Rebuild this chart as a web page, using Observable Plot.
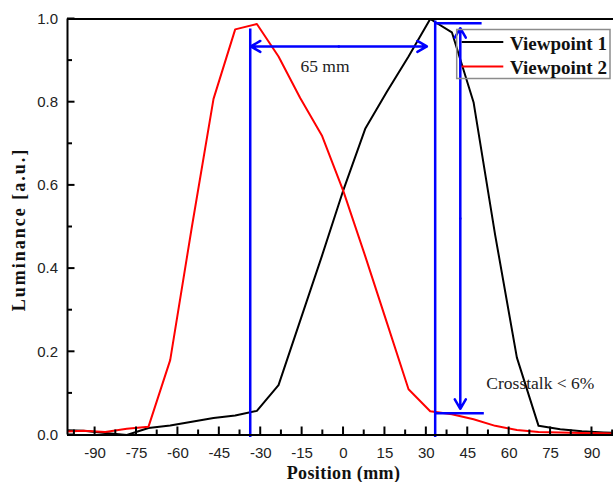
<!DOCTYPE html>
<html>
<head>
<meta charset="utf-8">
<script src="https://cdn.jsdelivr.net/npm/d3@7"></script>
<script src="https://cdn.jsdelivr.net/npm/@observablehq/plot@0.6"></script>
<style>
  html, body { margin: 0; padding: 0; background: #fff; }
  #chart { width: 613px; height: 482px; overflow: hidden; }
</style>
</head>
<body>
<div id="chart"></div>
<script>
// ---- data ----
const positions = [-102.05, -94.2, -86.35, -78.5, -70.65, -62.8, -54.95, -47.1, -39.25, -31.4, -23.55, -15.7, -7.85, 0,
  7.85, 15.7, 23.55, 31.4, 39.25, 47.1, 54.95, 62.8, 70.65, 78.5, 86.35, 94.2, 102.05];
const viewpoint1 = [0.012, 0.01, 0.005, 0.0, 0.017, 0.023, 0.032, 0.041, 0.047, 0.058, 0.12, 0.275, 0.43, 0.59,
  0.736, 0.825, 0.91, 1.0, 0.968, 0.8, 0.48, 0.186, 0.022, 0.014, 0.009, 0.006, 0.004];
const viewpoint2 = [0.008, 0.01, 0.007, 0.015, 0.02, 0.18, 0.5, 0.808, 0.975, 0.988, 0.91, 0.81, 0.72, 0.585,
  0.43, 0.27, 0.11, 0.057, 0.05, 0.038, 0.022, 0.012, 0.007, 0.006, 0.005, 0.004, 0.003];
const seriesNames = ["Viewpoint 1", "Viewpoint 2"];
const seriesColors = ["#000000", "#ff0000"];

const xMajorTicks = [-90, -75, -60, -45, -30, -15, 0, 15, 30, 45, 60, 75, 90];
const xMinorTicks = [-97.5, -82.5, -67.5, -52.5, -37.5, -22.5, -7.5, 7.5, 22.5, 37.5, 52.5, 67.5, 82.5, 97.5];
const yMajorTicks = [0, 0.2, 0.4, 0.6, 0.8, 1.0];
const yMinorTicks = [0.1, 0.3, 0.5, 0.7, 0.9];
const xMin = -100, xMax = 97.8;

// annotation values (mm / luminance)
const viewpointEdges = [
  {x: -33.8, y1: -0.006, y2: 0.976},
  {x: 33.2, y1: -0.006, y2: 0.995}
];
const separationArrow = {x1: -33.6, x2: 30.2, y: 0.934};
const crosstalkArrow = {x: 42.3, y1: 0.063, y2: 0.978};
const crosstalkLevels = [
  {y: 0.99, x1: 33.2, x2: 50.2},
  {y: 0.0525, x1: 33.2, x2: 51}
];
const labels = [
  {text: "65 mm", x: -6.7, y: 0.885},
  {text: "Crosstalk < 6%", x: 71.3, y: 0.124}
];

// ---- table built from arrays ----
const table = [];
positions.forEach((p, i) => {
  table.push({position: p, value: viewpoint1[i], series: seriesNames[0]});
});
positions.forEach((p, i) => {
  table.push({position: p, value: viewpoint2[i], series: seriesNames[1]});
});

const blue = "#0000ff";
const serif = "Liberation Serif, Times New Roman, serif";

const sepMid = (separationArrow.x1 + separationArrow.x2) / 2;
const ctMid = (crosstalkArrow.y1 + crosstalkArrow.y2) / 2;

// inward-pointing tick marks, placed with the plot's own scales
function inwardTicks(index, scales) {
  const sx = scales.x, sy = scales.y;
  const g = d3.create("svg:g").attr("stroke", "#000").attr("stroke-width", 2).attr("fill", "none");
  const y0 = sy(0), x0 = sx(xMin);
  const addX = (ticks, len) => ticks.forEach(t => {
    g.append("line").attr("x1", sx(t)).attr("x2", sx(t)).attr("y1", y0).attr("y2", y0 - len);
  });
  const addY = (ticks, len) => ticks.forEach(t => {
    g.append("line").attr("x1", x0).attr("x2", x0 + len).attr("y1", sy(t)).attr("y2", sy(t));
  });
  addX(xMajorTicks, 8);
  addX(xMinorTicks, 5);
  addY(yMajorTicks, 7.5);
  addY(yMinorTicks, 5);
  return g.node();
}

function legendMark(index, scales, values, dimensions) {
  const {width, marginTop} = dimensions;
  const left = width - 156.3, top = marginTop + 11;
  const g = d3.create("svg:g");
  g.append("rect")
    .attr("x", left).attr("y", top).attr("width", 153.3).attr("height", 49)
    .attr("fill", "none").attr("stroke", "#8c8c8c").attr("stroke-width", 1.5);
  seriesNames.forEach((name, i) => {
    const ly = top + 12.5 + i * 24.5;
    g.append("line")
      .attr("x1", left + 5).attr("x2", left + 46.6)
      .attr("y1", ly).attr("y2", ly)
      .attr("stroke", scales.color(name)).attr("stroke-width", 2);
    g.append("text")
      .attr("x", left + 53.3).attr("y", top + 20.5 + i * 23.5)
      .attr("text-anchor", "start")
      .attr("font-family", serif).attr("font-weight", "bold").attr("font-size", 19)
      .attr("fill", "#111")
      .text(name);
  });
  return g.node();
}

const chart = Plot.plot({
  width: 613,
  height: 482,
  marginLeft: 67,
  marginRight: 0,
  marginTop: 18.5,
  marginBottom: 47.5,
  x: {domain: [xMin, xMax], label: null},
  y: {domain: [0, 1], label: null},
  color: {domain: seriesNames, range: seriesColors},
  style: {fontFamily: "Liberation Sans, Arial, sans-serif", fontSize: "15px", color: "#222", background: "#fff", overflow: "visible"},
  marks: [
    Plot.line(table, {x: "position", y: "value", stroke: "series", z: "series", strokeWidth: 2, clip: true}),
    Plot.ruleX(viewpointEdges, {x: "x", y1: "y1", y2: "y2", stroke: blue, strokeWidth: 2.5}),
    Plot.arrow([{a: sepMid, b: separationArrow.x1}, {a: sepMid, b: separationArrow.x2}], {
      x1: "a", x2: "b", y1: () => separationArrow.y, y2: () => separationArrow.y,
      stroke: blue, strokeWidth: 2.5, headLength: 6.6
    }),
    Plot.arrow([{a: ctMid, b: crosstalkArrow.y1}, {a: ctMid, b: crosstalkArrow.y2}], {
      y1: "a", y2: "b", x1: () => crosstalkArrow.x, x2: () => crosstalkArrow.x,
      stroke: blue, strokeWidth: 2.5, headLength: 6.6
    }),
    Plot.ruleY(crosstalkLevels, {y: "y", x1: "x1", x2: "x2", stroke: blue, strokeWidth: 2.5}),
    Plot.text(labels, {x: "x", y: "y", text: "text", fontFamily: serif, fontSize: 17.5, fill: "#222"}),
    Plot.ruleY([0], {stroke: "#000", strokeWidth: 2}),
    Plot.ruleY([1], {stroke: "#000", strokeWidth: 2}),
    Plot.ruleX([xMin], {stroke: "#000", strokeWidth: 2}),
    inwardTicks,
    Plot.axisX(xMajorTicks, {tickSize: 0, tickPadding: 12, tickFormat: d => String(d), label: null}),
    Plot.axisY(yMajorTicks, {tickSize: 0, tickPadding: 9.4, tickFormat: d3.format(".1f"), label: null}),
    Plot.text(["Position (mm)"], {text: d => d, frameAnchor: "bottom", lineAnchor: "middle", dx: 3, dy: 38,
      fontFamily: serif, fontWeight: "bold", fontSize: 18, fill: "#111"}),
    Plot.text(["Luminance [a.u.]"], {text: d => d, frameAnchor: "left", textAnchor: "middle", lineAnchor: "middle",
      rotate: -90, dx: -48, dy: 2.5,
      fontFamily: serif, fontWeight: "bold", fontSize: 18, fill: "#111"}),
    legendMark
  ]
});

chart.querySelectorAll("text").forEach(t => {
  if (t.textContent === "Luminance [a.u.]") t.style.letterSpacing = "2px";
  if (t.textContent === "Position (mm)") t.style.letterSpacing = "0.4px";
});

document.getElementById("chart").appendChild(chart);
</script>
</body>
</html>
